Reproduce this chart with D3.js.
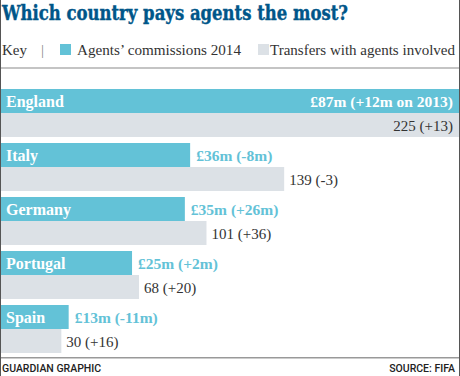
<!DOCTYPE html>
<html><head><meta charset="utf-8">
<script src="https://cdn.jsdelivr.net/npm/d3@7"></script>
<style>body{margin:0;background:#fff}svg{display:block}</style>
</head><body>
<svg id="c" width="460" height="376"></svg>
<script>
const countries = ["England","Italy","Germany","Portugal","Spain"];
const commissions = [87,36,35,25,13];
const commissionLabels = ["£87m (+12m on 2013)","£36m (-8m)","£35m (+26m)","£25m (+2m)","£13m (-11m)"];
const transfers = [225,139,101,68,30];
const transferLabels = ["225 (+13)","139 (-3)","101 (+36)","68 (+20)","30 (+16)"];
const legendLabels = ["Agents’ commissions 2014","Transfers with agents involved"];

const W=460,H=376;
const blue="#63c2d7", grey="#dce1e6", titleCol="#005689";
const serif="'DejaVu Serif', serif";
const kf="'Liberation Serif', serif";
const svg=d3.select("#c");

svg.append("text").attr("x",2).attr("y",20).attr("fill",titleCol)
  .style("font-family",serif).style("font-weight","bold").style("font-size","20px")
  .attr("stroke",titleCol).attr("stroke-width",0.4)
  .attr("textLength",346).attr("lengthAdjust","spacingAndGlyphs")
  .text("Which country pays agents the most?");

// key
svg.append("text").attr("x",2).attr("y",55).style("font-family",kf).style("font-size","15px").attr("fill","#333").text("Key");
svg.append("text").attr("x",41).attr("y",55).style("font-family",kf).style("font-size","15px").attr("fill","#888").text("|");
svg.append("rect").attr("x",60).attr("y",44).attr("width",11).attr("height",11).attr("fill",blue);
svg.append("text").attr("x",77).attr("y",55).style("font-family",kf).style("font-size","15px").attr("fill","#333")
  .attr("textLength",164).attr("lengthAdjust","spacingAndGlyphs").text(legendLabels[0]);
svg.append("rect").attr("x",258).attr("y",44).attr("width",11).attr("height",11).attr("fill",grey);
svg.append("text").attr("x",270).attr("y",55).style("font-family",kf).style("font-size","15px").attr("fill","#333")
  .attr("textLength",185).attr("lengthAdjust","spacingAndGlyphs").text(legendLabels[1]);

svg.append("rect").attr("x",0).attr("y",67).attr("width",W).attr("height",2).attr("fill","#c4c4c4");

const y=d3.scaleBand().domain(countries).range([89,359]).paddingInner(0).paddingOuter(0);
const xC=d3.scaleLinear().domain([0,87]).range([0,459.5]);
const xT=d3.scaleLinear().domain([0,225]).range([0,460]);
const rowH=24;
const g=svg.append("g");
countries.forEach((c,i)=>{
  const y0=y(c);
  g.append("rect").attr("x",0).attr("y",y0).attr("width",xC(commissions[i])).attr("height",rowH).attr("fill",blue);
  g.append("rect").attr("x",0).attr("y",y0+rowH).attr("width",xT(transfers[i])).attr("height",rowH).attr("fill",grey);
  g.append("text").attr("x",6).attr("y",y0+18).attr("fill","#fff").style("font-family",kf).style("font-weight","bold").style("font-size","16px").text(c);
  const inside = i===0;
  const cl=g.append("text").attr("y",y0+18).style("font-family",kf).style("font-weight","bold").style("font-size","15.5px").text(commissionLabels[i]);
  if(inside) cl.attr("x",453).attr("text-anchor","end").attr("fill","#fff");
  else cl.attr("x",xC(commissions[i])+6).attr("fill",blue);
  const tl=g.append("text").attr("y",y0+rowH+18).style("font-family",kf).style("font-size","15px").attr("fill","#333").text(transferLabels[i]);
  if(inside) tl.attr("x",453).attr("text-anchor","end");
  else tl.attr("x",xT(transfers[i])+5);
});

svg.append("rect").attr("x",0).attr("y",357).attr("width",W).attr("height",1.5).attr("fill","#999");
const ff="Roboto, sans-serif";
svg.append("text").attr("x",2).attr("y",372).style("font-family",ff).style("font-weight","500").style("font-size","10.5px").attr("fill","#222")
  .text("GUARDIAN GRAPHIC");
svg.append("text").attr("x",455).attr("y",372).attr("text-anchor","end").style("font-family",ff).style("font-weight","500").style("font-size","10.5px").attr("fill","#222")
  .text("SOURCE: FIFA");

svg.append("rect").attr("x",0).attr("y",0).attr("width",1).attr("height",H).attr("fill","#555");
svg.append("rect").attr("x",459).attr("y",0).attr("width",1).attr("height",H).attr("fill","#555");
</script>
</body></html>
